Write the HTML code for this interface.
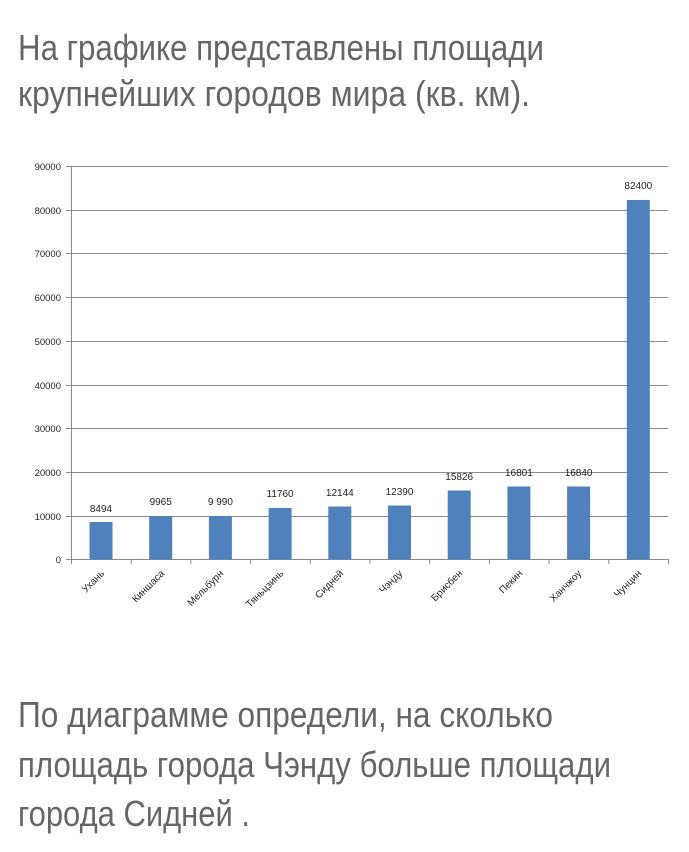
<!DOCTYPE html>
<html><head><meta charset="utf-8"><style>
html,body{margin:0;padding:0;background:#fff;}
svg{display:block;}
.t{font-family:"Liberation Sans Narrow","Liberation Sans",sans-serif;fill:#666;font-size:36px;font-weight:300;}
.s{font-family:"Liberation Sans",sans-serif;fill:#222;font-size:10px;}
</style></head><body>
<svg width="689" height="852" viewBox="0 0 689 852" xmlns="http://www.w3.org/2000/svg">
<text class="t" x="18" y="60" textLength="526" lengthAdjust="spacingAndGlyphs">На графике представлены площади</text>
<text class="t" x="18" y="106" textLength="512" lengthAdjust="spacingAndGlyphs">крупнейших городов мира (кв. км).</text>
<g stroke="#8a8a8a" stroke-width="1">
<line x1="66" y1="166.5" x2="668" y2="166.5"/>
<line x1="66" y1="210.5" x2="668" y2="210.5"/>
<line x1="66" y1="253.5" x2="668" y2="253.5"/>
<line x1="66" y1="297.5" x2="668" y2="297.5"/>
<line x1="66" y1="341.5" x2="668" y2="341.5"/>
<line x1="66" y1="385.5" x2="668" y2="385.5"/>
<line x1="66" y1="428.5" x2="668" y2="428.5"/>
<line x1="66" y1="472.5" x2="668" y2="472.5"/>
<line x1="66" y1="516.5" x2="668" y2="516.5"/>
<line x1="66" y1="559.5" x2="668" y2="559.5"/>
<line x1="71.5" y1="166" x2="71.5" y2="564"/>
</g>
<g stroke="#8a8a8a" stroke-width="1">
<line x1="131.2" y1="559" x2="131.2" y2="564"/><line x1="190.9" y1="559" x2="190.9" y2="564"/>
<line x1="250.6" y1="559" x2="250.6" y2="564"/><line x1="310.3" y1="559" x2="310.3" y2="564"/>
<line x1="370" y1="559" x2="370" y2="564"/><line x1="429.7" y1="559" x2="429.7" y2="564"/>
<line x1="489.4" y1="559" x2="489.4" y2="564"/><line x1="549.1" y1="559" x2="549.1" y2="564"/>
<line x1="608.8" y1="559" x2="608.8" y2="564"/><line x1="668.5" y1="559" x2="668.5" y2="564"/>
</g>
<g class="s" text-anchor="end" style="font-size:9.5px">
<text x="61" y="170">90000</text><text x="61" y="214">80000</text><text x="61" y="257">70000</text>
<text x="61" y="301">60000</text><text x="61" y="345">50000</text><text x="61" y="389">40000</text>
<text x="61" y="432">30000</text><text x="61" y="476">20000</text><text x="61" y="520">10000</text>
<text x="61" y="563">0</text>
</g>
<g fill="#4f81bd">
<rect x="89.5" y="522" width="23" height="37.5"/>
<rect x="149.2" y="516" width="23" height="43.5"/>
<rect x="208.9" y="516" width="23" height="43.5"/>
<rect x="268.6" y="508" width="23" height="51.5"/>
<rect x="328.3" y="506.5" width="23" height="53"/>
<rect x="388" y="505.5" width="23" height="54"/>
<rect x="447.7" y="490.5" width="23" height="69"/>
<rect x="507.4" y="486.5" width="23" height="73"/>
<rect x="567.1" y="486.5" width="23" height="73"/>
<rect x="626.8" y="200" width="23" height="359.5"/>
</g>
<g class="s" text-anchor="middle">
<text x="101" y="512">8494</text><text x="160.7" y="505">9965</text><text x="220.4" y="505">9 990</text>
<text x="280.1" y="497">11760</text><text x="339.8" y="496">12144</text><text x="399.5" y="495">12390</text>
<text x="459.2" y="480">15826</text><text x="518.9" y="476">16801</text><text x="578.6" y="476">16840</text>
<text x="638.3" y="189">82400</text>
</g>
<g class="s" text-anchor="end" style="font-size:10px">
<text transform="translate(105,574) rotate(-45)">Ухань</text>
<text transform="translate(165,574) rotate(-45)">Киншаса</text>
<text transform="translate(224,574) rotate(-45)">Мельбурн</text>
<text transform="translate(284,574) rotate(-45)">Тяньцзинь</text>
<text transform="translate(344,574) rotate(-45)">Сидней</text>
<text transform="translate(403,574) rotate(-45)">Чэнду</text>
<text transform="translate(463,574) rotate(-45)">Брисбен</text>
<text transform="translate(523,574) rotate(-45)">Пекин</text>
<text transform="translate(582,574) rotate(-45)">Ханчжоу</text>
<text transform="translate(642,574) rotate(-45)">Чунцин</text>
</g>
<text class="t" x="18" y="727" textLength="535" lengthAdjust="spacingAndGlyphs">По диаграмме определи, на сколько</text>
<text class="t" x="18" y="777" textLength="593" lengthAdjust="spacingAndGlyphs">площадь города Чэнду больше площади</text>
<text class="t" x="18" y="826" textLength="232" lengthAdjust="spacingAndGlyphs">города Сидней .</text>
</svg>
</body></html>
